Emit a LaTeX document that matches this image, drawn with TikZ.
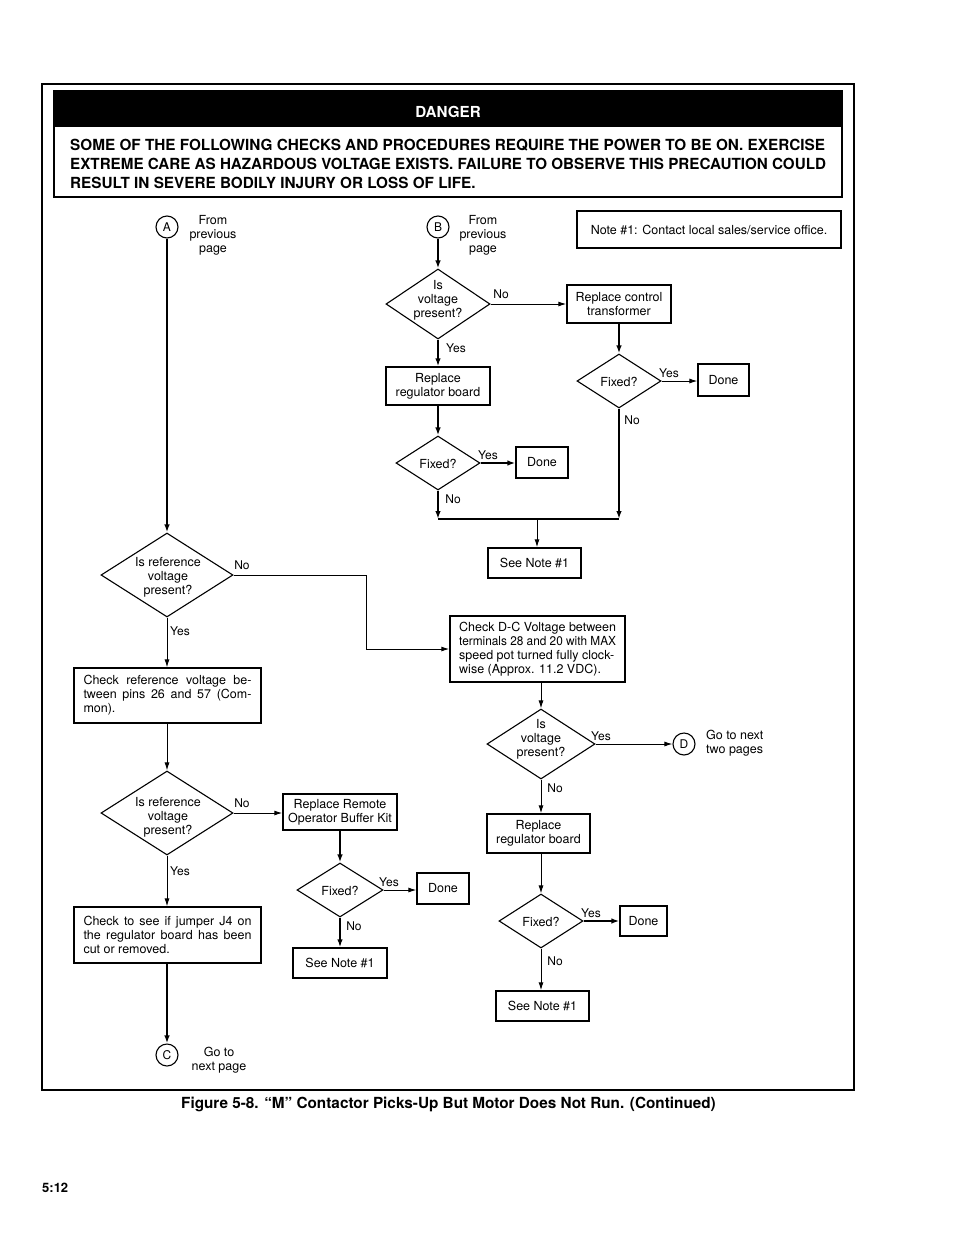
\documentclass[tikz,border=0pt]{standalone}
\usepackage{fontspec}
\setmainfont{TeX Gyre Heros}
\usetikzlibrary{shapes.geometric,arrows.meta}
\begin{document}
\begin{tikzpicture}[x=1pt,y=-1pt,
  every node/.style={font=\fontsize{12.5}{14}\selectfont, inner sep=0pt},
  box/.style={draw, line width=1.4pt, align=center},
  dia/.style={draw, diamond, line width=1.1pt},
  circ/.style={draw, circle, line width=1.1pt, minimum size=22pt, font=\fontsize{12}{14}\selectfont},
  lbl/.style={font=\fontsize{12}{14}\selectfont, yshift=-1pt},
  txt/.style={align=center, yshift=-2pt},
  ftxt/.style={yshift=-1pt},
  arr/.style={line width=1pt, -{Latex[length=8pt,width=5pt]}},
  arrb/.style={line width=1.8pt, -{Latex[length=8pt,width=5.5pt]}},
]
\useasboundingbox (0,0) rectangle (954,1235);

% frames
\draw[line width=1.2pt] (42,84) rectangle (854,1090);
\fill[black] (54,91) rectangle (842,127);
\draw[line width=1.5pt] (54,91) rectangle (842,197);
\node[text=white, font=\bfseries\fontsize{15.2}{18}\selectfont] (danger) at (448,112) {DANGER};
\node[anchor=west, align=left, font=\bfseries\fontsize{15.3}{19}\selectfont] (warn) at (70,164)
 {SOME OF THE FOLLOWING CHECKS AND PROCEDURES REQUIRE THE POWER TO BE ON. EXERCISE\\
  \scalebox{0.993}[1]{EXTREME CARE AS HAZARDOUS VOLTAGE EXISTS. FAILURE TO OBSERVE THIS PRECAUTION COULD}\\
  RESULT IN SEVERE BODILY INJURY OR LOSS OF LIFE.};

% connectors A/B
\node[circ] (A) at (167,227) {A};
\node[txt] (Atxt) at (213,233) {From\\previous\\page};
\node[circ] (B) at (438,227) {B};
\node[txt] (Btxt) at (483,233) {From\\previous\\page};
\node[box, line width=1.2pt, minimum width=264pt, minimum height=37pt] (note) at (709,229.5) {Note \#1: Contact local sales/service office.};

% B branch
\node[dia, minimum width=104pt, minimum height=70pt] (v1) at (438,304) {};
\node[txt] (v1t) at (438,298.5) {Is\\voltage\\present?};
\node[box, minimum width=104pt, minimum height=38pt] (ct) at (619,304) {Replace control\\transformer};
\node[box, minimum width=104pt, minimum height=38pt] (rb1) at (438,386) {Replace\\regulator board};
\node[dia, minimum width=84pt, minimum height=54pt] (f1) at (438,463) {};
\node[ftxt] (f1t) at (438,463) {Fixed?};
\node[box, line width=1.2pt, minimum width=52pt, minimum height=31pt] (done1) at (542,462.5) {Done};
\node[dia, minimum width=84pt, minimum height=54pt] (f2) at (619,381) {};
\node[ftxt] (f2t) at (619,381) {Fixed?};
\node[box, line width=1.2pt, minimum width=51pt, minimum height=32pt] (done2) at (723.5,380) {Done};
\coordinate (m1) at (438,519);
\coordinate (m2) at (619,519);
\coordinate (m3) at (537,519);
\node[box, minimum width=93pt, minimum height=30pt] (sn1) at (534.5,563) {See Note \#1};

% left column
\node[dia, minimum width=132pt, minimum height=84pt] (r1) at (167,575) {};
\node[txt] (r1t) at (168,575) {Is reference\\voltage\\present?};
\coordinate (k1) at (366,575);
\node[box, minimum width=175pt, minimum height=66pt] (dc) at (537.5,649) {};
\node[anchor=west, align=left, yshift=-1.5pt] (dct) at (459,648) {Check D-C Voltage between\\\scalebox{0.946}[1]{terminals 28 and 20 with MAX}\\speed pot turned fully clock-\\wise (Approx. 11.2 VDC).};
\node[box, line width=1.2pt, minimum width=187pt, minimum height=55pt, align=left] (cr) at (167.5,695.5)
 {\makebox[168pt][s]{Check reference voltage be-}\\\makebox[168pt][s]{tween pins 26 and 57 (Com-}\\\makebox[168pt][l]{mon).}};
\node[dia, minimum width=132pt, minimum height=84pt] (r2) at (167,813) {};
\node[txt] (r2t) at (168,815) {Is reference\\voltage\\present?};
\node[box, minimum width=114pt, minimum height=36pt] (rob) at (340,812) {Replace Remote\\Operator Buffer Kit};
\node[dia, minimum width=86pt, minimum height=54pt] (f3) at (340,890) {};
\node[ftxt] (f3t) at (340,890) {Fixed?};
\node[box, line width=1.2pt, minimum width=52pt, minimum height=31pt] (done3) at (443,888.5) {Done};
\node[box, minimum width=94pt, minimum height=30pt] (sn2) at (340,963) {See Note \#1};
\node[box, line width=1.2pt, minimum width=187pt, minimum height=56pt, align=left] (j4) at (167.5,935)
 {\makebox[168pt][s]{Check to see if jumper J4 on}\\\makebox[168pt][s]{the regulator board has been}\\\makebox[168pt][l]{cut or removed.}};
\node[circ] (C) at (167,1055) {C};
\node[txt] (Ctxt) at (219,1058) {Go to\\next page};

% right column
\node[dia, minimum width=108pt, minimum height=70pt] (v2) at (541,744) {};
\node[txt] (v2t) at (541,737) {Is\\voltage\\present?};
\node[circ] (D) at (684,744) {D};
\node[anchor=west, align=left, yshift=-1.5pt] (Dtxt) at (706,742) {Go to next\\two pages};
\node[box, minimum width=103pt, minimum height=39pt] (rb2) at (538.5,833.5) {Replace\\regulator board};
\node[dia, minimum width=84pt, minimum height=54pt] (f4) at (541,921) {};
\node[ftxt] (f4t) at (541,921) {Fixed?};
\node[box, line width=1.2pt, minimum width=47pt, minimum height=30pt] (done4) at (643.5,921) {Done};
\node[box, minimum width=93pt, minimum height=30pt] (sn3) at (542.5,1006) {See Note \#1};

% labels
\node[lbl] (y1) at (501,293) {No};
\node[lbl] (y2) at (456,347) {Yes};
\node[lbl] (y3) at (488,454) {Yes};
\node[lbl] (y4) at (453,498) {No};
\node[lbl] (y5) at (669,372) {Yes};
\node[lbl] (y6) at (632,419) {No};
\node[lbl] (y7) at (242,564) {No};
\node[lbl] (y8) at (180,630) {Yes};
\node[lbl] (y9) at (242,802) {No};
\node[lbl] (y10) at (180,870) {Yes};
\node[lbl] (y11) at (389,881) {Yes};
\node[lbl] (y12) at (354,925) {No};
\node[lbl] (y13) at (601,735) {Yes};
\node[lbl] (y14) at (555,787) {No};
\node[lbl] (y15) at (591,912) {Yes};
\node[lbl] (y16) at (555,960) {No};

% connectors
\draw[arrb] (A.south) -- (A.south |- r1.north);
\draw[arrb] (B.south) -- (v1.north);
\draw[arr] (v1.east) -- (v1.east -| ct.west);
\draw[arrb] (v1.south) -- (v1.south |- rb1.north);
\draw[arrb] (rb1.south) -- (f1.north);
\draw[arrb] (f1.east) -- (f1.east -| done1.west);
\draw[arrb] (f1.south) -- (m1);
\draw[arrb] (ct.south) -- (f2.north);
\draw[arr] (f2.east) -- (f2.east -| done2.west);
\draw[arrb] (f2.south) -- (m2);
\draw[line width=1.8pt] (m1) -- (m2);
\draw[arr] (m3) -- (m3 |- sn1.north);
\draw[arr] (r1.east) -- (k1) |- (dc.west);
\draw[arr] (r1.south) -- (r1.south |- cr.north);
\draw[arr] (r1.south |- cr.south) -- (r2.north);
\draw[arr] (r2.east) -- (r2.east -| rob.west);
\draw[arrb] (rob.south) -- (f3.north);
\draw[arr] (f3.east) -- (f3.east -| done3.west);
\draw[arrb] (f3.south) -- (sn2.north);
\draw[arr] (r2.south) -- (r2.south |- j4.north);
\draw[arrb] (r2.south |- j4.south) -- (C.north);
\draw[arr] (v2.north |- dc.south) -- (v2.north);
\draw[arr] (v2.east) -- (D.west);
\draw[arr] (v2.south) -- (v2.south |- rb2.north);
\draw[arr] (f4.north |- rb2.south) -- (f4.north);
\draw[arrb] (f4.east) -- (f4.east -| done4.west);
\draw[arr] (f4.south) -- (f4.south |- sn3.north);

% caption
\node[font=\bfseries\fontsize{15.3}{18}\selectfont] (cap) at (448.5,1104) {Figure 5-8. “M” Contactor Picks-Up But Motor Does Not Run. (Continued)};
\node[anchor=west, font=\bfseries\fontsize{13}{16}\selectfont] (pg) at (42,1187.5) {5:12};
\end{tikzpicture}
\end{document}
